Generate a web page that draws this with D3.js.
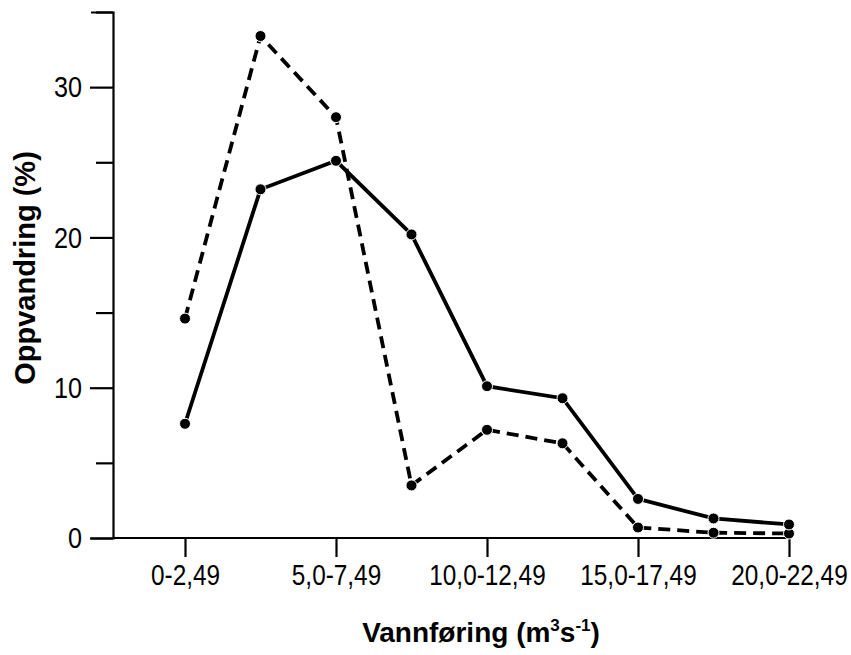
<!DOCTYPE html>
<html>
<head>
<meta charset="utf-8">
<script src="https://cdn.jsdelivr.net/npm/d3@7"></script>
<style>
  body { margin: 0; background: #fff; }
  .tick text { font-family: "Liberation Sans", sans-serif; }
</style>
</head>
<body>
<div id="chart"></div>
<script>
// Categories (flow intervals) and series values
const categories = ["0-2,49", "2,5-4,99", "5,0-7,49", "7,5-9,99", "10,0-12,49",
                    "12,5-14,99", "15,0-17,49", "17,5-19,99", "20,0-22,49"];
const labelledCats = ["0-2,49", "5,0-7,49", "10,0-12,49", "15,0-17,49", "20,0-22,49"];
const solidValues = [7.6, 23.2, 25.1, 20.2, 10.1, 9.3, 2.6, 1.3, 0.9];
const dashedValues = [14.6, 33.4, 28.0, 3.5, 7.2, 6.3, 0.7, 0.35, 0.3];
const yTicks = [0, 5, 10, 15, 20, 25, 30, 35];
const yLabelTicks = [0, 10, 20, 30];

const W = 851, H = 655;
const margin = {top: 12, left: 113};
const width = 676, height = 526;
const squeeze = 0.84; // narrow the tick font a little

const svg = d3.select("#chart")
    .append("svg")
    .attr("width", W)
    .attr("height", H);

const g = svg.append("g")
    .attr("transform", "translate(" + margin.left + "," + margin.top + ")");

const xScale = d3.scalePoint()
    .domain(categories)
    .range([72, width]);

const yScale = d3.scaleLinear()
    .domain([0, 35])
    .range([height, 0]);

// y-axis
const yAxis = g.append("g")
    .call(d3.axisLeft(yScale)
        .tickValues(yTicks)
        .tickSizeOuter(0)
        .tickSize(22)
        .tickPadding(9)
        .tickFormat(d => yLabelTicks.includes(d) ? d : ""));
yAxis.select(".domain").attr("stroke-width", 2.2);
yAxis.selectAll(".tick line")
    .attr("stroke-width", 2.2)
    .attr("x2", d => yLabelTicks.includes(d) ? -23 : -17);
yAxis.selectAll(".tick text")
    .attr("font-size", 30)
    .attr("fill", "#000")
    .attr("x", -31 / squeeze)
    .attr("transform", "scale(" + squeeze + ",1)");

// x-axis
const xAxis = g.append("g")
    .attr("transform", "translate(0," + height + ")")
    .call(d3.axisBottom(xScale)
        .tickValues(labelledCats)
        .tickSizeOuter(0)
        .tickSize(19)
        .tickPadding(7));
xAxis.select(".domain")
    .attr("d", "M0,0H" + xScale(categories[categories.length - 1]))
    .attr("stroke-width", 2.2);
xAxis.selectAll(".tick line").attr("stroke-width", 2.2);
xAxis.selectAll(".tick text")
    .attr("font-size", 29)
    .attr("fill", "#000")
    .attr("transform", "scale(" + squeeze + ",1)");

// Lines
const line = d3.line()
    .x((d, i) => xScale(categories[i]))
    .y(d => yScale(d));

const series = [
    {values: dashedValues, dash: "12,7"},
    {values: solidValues, dash: null}
];

series.forEach(s => {
    g.append("path")
        .datum(s.values)
        .attr("fill", "none")
        .attr("stroke", "#000")
        .attr("stroke-width", 3.8)
        .attr("stroke-dasharray", s.dash)
        .attr("d", line);
});

series.forEach(s => {
    g.selectAll(null)
        .data(s.values)
        .enter()
        .append("circle")
        .attr("cx", (d, i) => xScale(categories[i]))
        .attr("cy", d => yScale(d))
        .attr("r", 5.5)
        .attr("fill", "#000")
        .attr("stroke", "#fff")
        .attr("stroke-width", 1);
});

// Axis titles
svg.append("text")
    .attr("transform", "translate(35," + 268 + ")rotate(-90)")
    .attr("text-anchor", "middle")
    .attr("font-family", "Liberation Sans, sans-serif")
    .attr("font-weight", "bold")
    .attr("font-size", 29)
    .text("Oppvandring (%)");

const xt = svg.append("text")
    .attr("x", 481)
    .attr("y", 642)
    .attr("text-anchor", "middle")
    .attr("font-family", "Liberation Sans, sans-serif")
    .attr("font-weight", "bold")
    .attr("font-size", 28);
xt.append("tspan").text("Vannføring (m");
xt.append("tspan").attr("font-size", 17).attr("dy", -11).text("3");
xt.append("tspan").attr("dy", 11).text("s");
xt.append("tspan").attr("font-size", 17).attr("dy", -11).text("-1");
xt.append("tspan").attr("dy", 11).text(")");
</script>
</body>
</html>
